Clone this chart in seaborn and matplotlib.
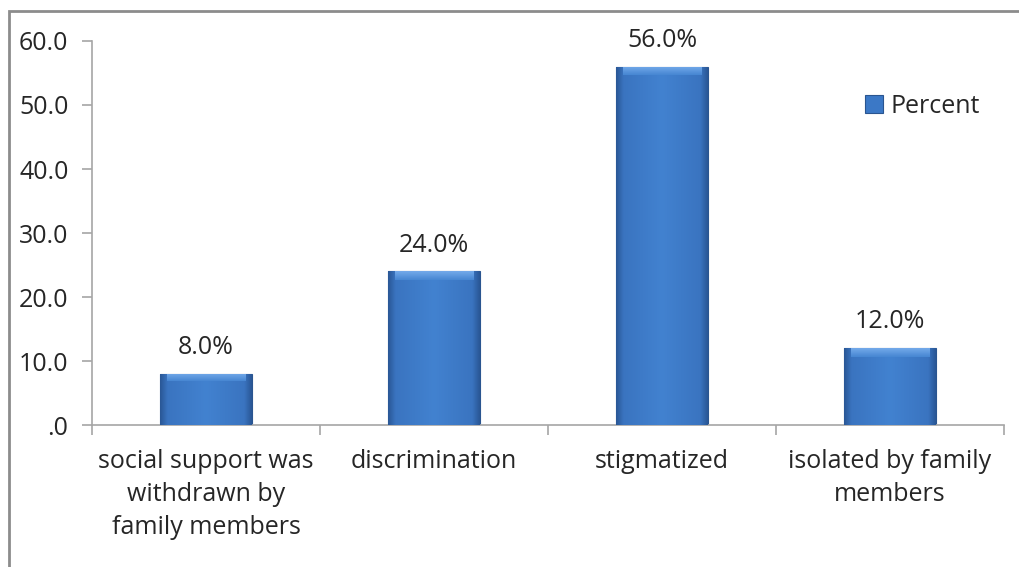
import matplotlib
matplotlib.use("Agg")
import matplotlib.pyplot as plt
import numpy as np
import pandas as pd
import seaborn as sns
from matplotlib.patches import Rectangle
from matplotlib.colors import LinearSegmentedColormap

categories = ["social support was\nwithdrawn by\nfamily members",
              "discrimination",
              "stigmatized",
              "isolated by family\nmembers"]
percent = [8.0, 24.0, 56.0, 12.0]
yticks = [0, 10, 20, 30, 40, 50, 60]
ytick_labels = [".0", "10.0", "20.0", "30.0", "40.0", "50.0", "60.0"]
series_name = "Percent"

df = pd.DataFrame({"category": categories, "value": percent})

sns.set_theme(style="white")
plt.rcParams["font.family"] = ["Open Sans", "DejaVu Sans"]
FS = 18
TXT = "#262626"

fig = plt.figure(figsize=(10.19, 5.67), dpi=100)
ax = fig.add_axes([0.0903, 0.2504, 0.8950, 0.6773])

base = "#3b78c6"
sns.barplot(data=df, x="category", y="value", color=base, width=0.40,
            saturation=1, ax=ax, label=series_name, zorder=2)

# bevelled shading on each bar
side = LinearSegmentedColormap.from_list(
    "side", [(0.0, "#2a5796"), (0.08, "#3a74c0"), (0.5, "#4282d0"),
             (0.92, "#3a74c0"), (1.0, "#2a5796")])
bev = LinearSegmentedColormap.from_list("bev", ["#4686d2", "#74aaea"])
grad = np.linspace(0, 1, 200)[None, :]
for p in ax.patches:
    x0, y0 = p.get_x(), p.get_y()
    w, h = p.get_width(), p.get_height()
    im = ax.imshow(grad, cmap=side, aspect="auto",
                   extent=[x0, x0 + w, y0, y0 + h], zorder=3,
                   interpolation="bicubic")
    im.set_clip_path(p)
    # lighter bevel along the top edge
    top_h = min(1.3, h * 0.15)
    im2 = ax.imshow(np.linspace(0, 1, 50)[:, None], cmap=bev, aspect="auto",
                    origin="lower",
                    extent=[x0 + w * 0.07, x0 + w * 0.93, y0 + h - top_h, y0 + h],
                    zorder=4, interpolation="bicubic")
    im2.set_clip_path(p)
    p.set_edgecolor("#2a5590")
    p.set_linewidth(0.8)

ax.set_xlim(-0.5, 3.5)
ax.set_ylim(0, 60)
ax.set_yticks(yticks)
ax.set_yticklabels(ytick_labels)
ax.set_xlabel("")
ax.set_ylabel("")

# value labels
for i, v in enumerate(percent):
    ax.annotate(f"{v:.1f}%", (i, v), xytext=(0, 10), textcoords="offset points",
                ha="center", va="bottom", fontsize=FS, color=TXT)

for s in ["top", "right"]:
    ax.spines[s].set_visible(False)
for s in ["left", "bottom"]:
    ax.spines[s].set_color("#a6a6a6")
    ax.spines[s].set_linewidth(1.2)

ax.set_xticks([0, 1, 2, 3])
ax.set_xticklabels(categories, fontsize=FS, color=TXT, linespacing=1.43)
ax.tick_params(axis="x", length=0, pad=17)
ax.set_xticks([-0.5, 0.5, 1.5, 2.5, 3.5], minor=True)
ax.tick_params(axis="x", which="minor", length=7, width=1.2, color="#a6a6a6",
               direction="out", bottom=True)
ax.tick_params(axis="y", length=7, width=1.2, color="#a6a6a6", direction="out",
               left=True, labelsize=FS, labelcolor=TXT, pad=10)

leg = ax.legend(loc="center left", bbox_to_anchor=(0.823, 0.83), frameon=False,
                fontsize=FS, handlelength=0.7, handleheight=0.7,
                handletextpad=0.3, labelcolor=TXT)

# outer frame of the chart area
frame = Rectangle((9 / 1019, -0.1), 1.2, 1 - 11 / 567 + 0.1,
                  transform=fig.transFigure, fill=False,
                  edgecolor="#8c8c8c", linewidth=2.0, zorder=10)
fig.patches.append(frame)

fig.savefig("out.png", dpi=100)
